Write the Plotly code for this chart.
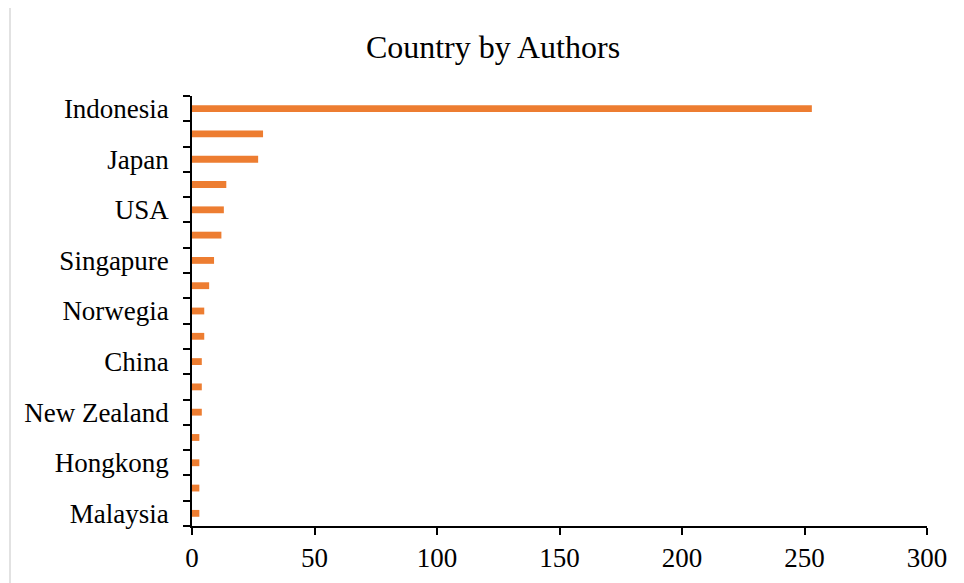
import plotly.graph_objects as go

# Categories (labels shown in the reference; alternate rows have no visible label)
countries = ["Indonesia", "", "Japan", "", "USA", "", "Singapure", "", "Norwegia",
             "", "China", "", "New Zealand", "", "Hongkong", "", "Malaysia"]
authors = [253, 29, 27, 14, 13, 12, 9, 7, 5, 5, 4, 4, 4, 3, 3, 3, 3]
x_ticks = [0, 50, 100, 150, 200, 250, 300]

positions = list(range(len(countries)))

W, H = 964, 583
off = 8  # page body margin
ml, mt = 192 - off, 96 - off
pw, ph = 735, 430
mr, mb = W - ml - pw, H - mt - ph

fig = go.Figure(go.Bar(
    x=authors, y=positions, orientation="h",
    marker=dict(color="#ED7D31", line=dict(width=0)),
    width=0.27,
))

font_family = "Liberation Serif, Times New Roman, serif"

fig.update_layout(
    width=W, height=H,
    margin=dict(l=ml, r=mr, t=mt, b=mb),
    plot_bgcolor="white", paper_bgcolor="white",
    font=dict(family=font_family, color="black"),
    title=dict(text="Country by Authors", x=(493 - off) / W, xanchor="center",
               y=1 - (47 - off) / H, yanchor="middle",
               font=dict(size=32, family=font_family, color="black")),
    showlegend=False,
    xaxis=dict(range=[0, 300], tickvals=x_ticks, ticks="outside", ticklen=7,
               tickcolor="black", tickwidth=1.5, showline=True, linecolor="black",
               linewidth=1.5, showgrid=False, zeroline=False,
               tickfont=dict(size=27, family=font_family, color="black")),
    yaxis=dict(range=[16.5, -0.5], tickvals=positions, ticktext=countries,
               ticks="", showline=True, linecolor="black", linewidth=1.5,
               showgrid=False, zeroline=False, ticklabelstandoff=16,
               tickfont=dict(size=27, family=font_family, color="black"),
               minor=dict(tickmode="linear", tick0=-0.5, dtick=1, ticks="outside",
                          ticklen=7, tickcolor="black", tickwidth=1.5, showgrid=False)),
)

# Light grey chart-area border (visible on the left and top)
fig.add_shape(type="rect", xref="paper", yref="paper",
              x0=(10 - off - ml) / pw, x1=2.0, y0=-1.0, y1=(ph + mt - (6 - off)) / ph,
              line=dict(color="#d9d9d9", width=1.5), layer="below")

fig.write_html("out.html")
